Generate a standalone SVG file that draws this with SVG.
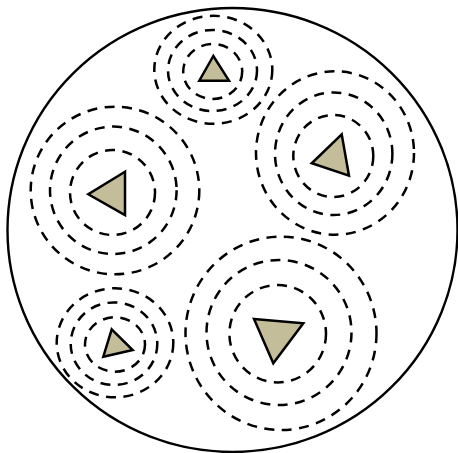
<svg xmlns="http://www.w3.org/2000/svg" width="458" height="453" viewBox="0 0 458 453">
<style>
.ring{fill:none;stroke:#000;stroke-width:2.5;stroke-dasharray:10 7.5}
.tri{fill:#c4bd99;stroke:#000;stroke-width:2.5;stroke-linejoin:miter}
.outer{fill:#fff;stroke:#000;stroke-width:2.4}
</style>
<rect width="458" height="453" fill="#fff"/>
<ellipse class="outer" cx="232.5" cy="230" rx="225" ry="222"/>
<g id="group-top">
<ellipse class="ring" cx="213.3" cy="69.8" rx="59" ry="54"/>
<ellipse class="ring" cx="212.5" cy="70.5" rx="44.5" ry="40.5"/>
<ellipse class="ring" cx="212.7" cy="71.5" rx="29.5" ry="27.5"/>
<polygon class="tri" points="213.3,56 199.3,80.7 229,80.7"/>
</g>
<g id="group-upper-right">
<ellipse class="ring" cx="335" cy="153" rx="79" ry="81.7"/>
<ellipse class="ring" cx="333.7" cy="153.7" rx="58.7" ry="61.3"/>
<ellipse class="ring" cx="333.3" cy="156" rx="40" ry="41"/>
<polygon class="tri" points="341.7,134.3 311.7,163.3 349,175.7"/>
</g>
<g id="group-left">
<ellipse class="ring" cx="115" cy="190.5" rx="84.3" ry="83.8"/>
<ellipse class="ring" cx="113.3" cy="190.3" rx="63.3" ry="63.7"/>
<ellipse class="ring" cx="112.5" cy="192.5" rx="42.5" ry="42.5"/>
<polygon class="tri" points="125,171.7 88.3,194.3 125,215"/>
</g>
<g id="group-lower-left">
<ellipse class="ring" cx="115" cy="342.8" rx="58.3" ry="54.5"/>
<ellipse class="ring" cx="114" cy="343.7" rx="43.3" ry="41.3"/>
<ellipse class="ring" cx="115" cy="344.5" rx="30" ry="27.2"/>
<polygon class="tri" points="111.7,329.3 132.7,350 103.3,356.7"/>
</g>
<g id="group-lower-right">
<ellipse class="ring" cx="281" cy="333.3" rx="95.5" ry="96.7"/>
<ellipse class="ring" cx="279" cy="332.5" rx="72.5" ry="72.5"/>
<ellipse class="ring" cx="277.7" cy="333.7" rx="48.3" ry="48.7"/>
<polygon class="tri" points="254,319 303.3,323.3 273.3,363.3"/>
</g>
<g id="connectors"></g>
</svg>
